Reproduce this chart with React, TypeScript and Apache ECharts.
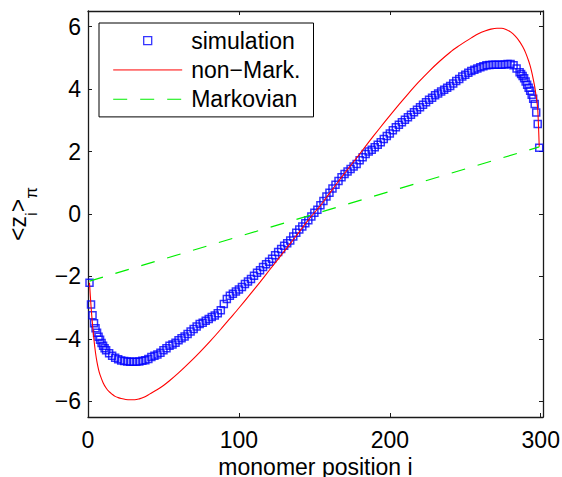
import React, { useEffect, useRef } from "react";
import * as echarts from "echarts";

const FONT = "Liberation Sans";

// x-axis ticks / y-axis ticks
const xTicks = [0, 100, 200, 300];
const yTicks = [-6, -4, -2, 0, 2, 4, 6];

// simulation: monomer index and <z_i>_pi
const simIndex = [
  1, 2, 3, 4, 5, 6, 7, 8, 9, 10, 11, 12, 14, 16, 18, 20, 22, 24, 26, 28, 30, 32, 34, 36, 38, 40,
  42, 44, 46, 48, 50, 52, 54, 56, 58, 60, 62, 64, 66, 68, 70, 72, 74, 76, 78, 80, 82, 84, 86, 88,
  90, 92, 94, 96, 98, 100, 102, 104, 106, 108, 110, 112, 114, 116, 118, 120, 122, 124, 126, 128,
  130, 132, 134, 136, 138, 140, 142, 144, 146, 148, 150, 152, 154, 156, 158, 160, 162, 164, 166,
  168, 170, 172, 174, 176, 178, 180, 182, 184, 186, 188, 190, 192, 194, 196, 198, 200, 202, 204,
  206, 208, 210, 212, 214, 216, 218, 220, 222, 224, 226, 228, 230, 232, 234, 236, 238, 240, 242,
  244, 246, 248, 250, 252, 254, 256, 258, 260, 262, 264, 266, 268, 270, 272, 274, 276, 278, 280,
  282, 284, 286, 287, 288, 289, 290, 291, 292, 293, 294, 295, 296, 297, 298, 299,
];
const simValue = [
  -2.2, -2.9, -3.24, -3.5, -3.66, -3.8, -3.93, -4.03, -4.13, -4.22, -4.3, -4.36, -4.46, -4.54,
  -4.6, -4.65, -4.69, -4.71, -4.72, -4.73, -4.73, -4.73, -4.72, -4.7, -4.68, -4.64, -4.58, -4.54,
  -4.5, -4.44, -4.36, -4.3, -4.22, -4.18, -4.12, -4.04, -3.98, -3.92, -3.84, -3.76, -3.68, -3.6,
  -3.52, -3.48, -3.42, -3.36, -3.3, -3.25, -3.18, -3.08, -2.88, -2.72, -2.62, -2.55, -2.48, -2.42,
  -2.34, -2.24, -2.16, -2.08, -1.98, -1.88, -1.8, -1.7, -1.61, -1.53, -1.43, -1.32, -1.22, -1.12,
  -1.02, -0.94, -0.85, -0.72, -0.6, -0.5, -0.4, -0.3, -0.2, -0.08, 0.04, 0.14, 0.28, 0.42, 0.56,
  0.68, 0.82, 0.94, 1.06, 1.18, 1.28, 1.36, 1.44, 1.52, 1.6, 1.72, 1.82, 1.92, 2.0, 2.06, 2.14,
  2.22, 2.3, 2.4, 2.5, 2.58, 2.68, 2.78, 2.86, 2.94, 3.02, 3.1, 3.18, 3.26, 3.34, 3.42, 3.5, 3.58,
  3.66, 3.72, 3.8, 3.86, 3.92, 3.98, 4.04, 4.1, 4.18, 4.26, 4.32, 4.4, 4.46, 4.52, 4.58, 4.62,
  4.66, 4.7, 4.73, 4.76, 4.77, 4.78, 4.78, 4.78, 4.78, 4.79, 4.8, 4.8, 4.76, 4.66, 4.54, 4.48,
  4.42, 4.35, 4.24, 4.14, 4.04, 3.95, 3.82, 3.69, 3.52, 3.25, 2.88, 2.12,
];

// non-Markovian theory curve
const nonMarkIndex = [
  1, 2, 3, 4, 5, 6, 7, 8, 10, 12, 14, 16, 18, 20, 22, 25, 28, 31, 34, 37, 41, 46, 50, 54, 60, 67,
  74, 81, 88, 94, 100, 107, 114, 120, 127, 134, 140, 146, 150, 154, 160, 166, 173, 180, 186, 193,
  200, 206, 212, 219, 226, 233, 240, 246, 250, 254, 259, 263, 267, 271, 274, 277, 280, 283, 286,
  288, 290, 292, 293, 294, 295, 296, 297, 298, 299,
];
const nonMarkValue = [
  -2.2, -2.95, -3.55, -4.05, -4.45, -4.75, -4.98, -5.15, -5.4, -5.57, -5.69, -5.77, -5.84, -5.88,
  -5.91, -5.94, -5.95, -5.95, -5.92, -5.87, -5.76, -5.62, -5.49, -5.34, -5.09, -4.77, -4.43, -4.07,
  -3.69, -3.35, -3.01, -2.6, -2.18, -1.81, -1.38, -0.95, -0.57, -0.19, 0.04, 0.27, 0.66, 1.05,
  1.49, 1.92, 2.3, 2.73, 3.15, 3.5, 3.84, 4.22, 4.57, 4.89, 5.18, 5.39, 5.52, 5.64, 5.78, 5.86,
  5.92, 5.95, 5.95, 5.91, 5.83, 5.7, 5.52, 5.36, 5.16, 4.9, 4.74, 4.55, 4.33, 4.08, 3.76, 3.36,
  2.15,
];

// Markovian prediction (straight line)
const markovIndex = [1, 299];
const markovValue = [-2.15, 2.15];

const zip = (xs: number[], ys: number[]) => xs.map((x, k) => [x, ys[k]]);
const minus = (v: number) => String(v).replace("-", "\u2212");

export default function App() {
  const ref = useRef<HTMLDivElement>(null);
  useEffect(() => {
    if (!ref.current) return;
    const chart = echarts.init(ref.current, undefined, { renderer: "svg" });
    const axisColor = "#1a1a1a";
    const label = { fontFamily: FONT, fontSize: 23, color: "#000" };
    const baseX = {
      type: "value" as const,
      min: 0,
      max: 301.5,
      splitLine: { show: false },
      axisLine: { show: true, onZero: false, lineStyle: { color: axisColor, width: 1.3 } },
      axisTick: { show: true, inside: true, length: 4, customValues: xTicks, lineStyle: { color: axisColor } },
    };
    const baseY = {
      type: "value" as const,
      min: -6.5,
      max: 6.5,
      splitLine: { show: false },
      axisLine: { show: true, onZero: false, lineStyle: { color: axisColor, width: 1.3 } },
      axisTick: { show: true, inside: true, length: 4, customValues: yTicks, lineStyle: { color: axisColor } },
    };
    chart.setOption({
      animation: false,
      backgroundColor: "#fff",
      grid: { left: 88, right: 19, top: 11, bottom: 60, containLabel: false, outerBoundsMode: "none" },
      xAxis: [
        {
          ...baseX,
          position: "bottom",
          name: "monomer position i",
          nameLocation: "middle",
          nameGap: 38,
          nameTextStyle: label,
          axisLabel: { ...label, customValues: xTicks, margin: 11, formatter: (v: number) => minus(v) },
        },
        { ...baseX, position: "top", axisLabel: { show: false } },
      ],
      yAxis: [
        {
          ...baseY,
          position: "left",
          name: "{a|<z}{s|i}{a|>}{s|\u03c0}",
          nameLocation: "middle",
          nameRotate: 90,
          nameGap: 48,
          nameTextStyle: {
            rich: {
              a: { fontFamily: FONT, fontSize: 23, color: "#000", verticalAlign: "bottom", padding: [0, 0, 11, 0] },
              s: { fontFamily: FONT, fontSize: 17, color: "#000", verticalAlign: "bottom" },
            },
          },
          axisLabel: { ...label, customValues: yTicks, margin: 7, formatter: (v: number) => minus(v) },
        },
        { ...baseY, position: "right", axisLabel: { show: false } },
      ],
      legend: {
        orient: "vertical",
        left: 99,
        top: 23,
        padding: [3, 13, 3, 13.7],
        itemWidth: 69,
        itemHeight: 8,
        itemGap: 0,
        borderColor: "#000",
        borderWidth: 1,
        borderRadius: 0,
        backgroundColor: "#fff",
        symbolKeepAspect: true,
        lineStyle: { width: 1 },
        textStyle: { fontFamily: FONT, fontSize: 23, color: "#000", lineHeight: 29.3, padding: [0, 0, 0, 4] },
        data: [
          {
            name: "simulation",
            icon: "path://M0,0L10,0L10,10L0,10Z",
            itemStyle: { color: "rgba(0,0,0,0)", borderColor: "#0000ff", borderWidth: 1.3 },
          },
          { name: "non\u2212Mark.", itemStyle: { opacity: 0 } },
          { name: "Markovian", itemStyle: { opacity: 0 } },
        ],
      },
      series: [
        {
          name: "simulation",
          type: "scatter",
          symbol: "rect",
          symbolSize: 7,
          itemStyle: { color: "rgba(0,0,0,0)", borderColor: "#0000ff", borderWidth: 1.5 },
          data: zip(simIndex, simValue),
        },
        {
          name: "non\u2212Mark.",
          type: "line",
          symbol: "none",
          showSymbol: false,
          smooth: 0.3,
          lineStyle: { color: "#ff0000", width: 1.1 },
          itemStyle: { color: "#ff0000" },
          data: zip(nonMarkIndex, nonMarkValue),
        },
        {
          name: "Markovian",
          type: "line",
          symbol: "none",
          showSymbol: false,
          lineStyle: { color: "#00ee00", width: 1.2, type: [14, 13] },
          itemStyle: { color: "#00ee00" },
          data: zip(markovIndex, markovValue),
        },
      ],
    });
    return () => chart.dispose();
  }, []);
  return <div ref={ref} style={{ position: "fixed", left: 0, top: 0, width: 562, height: 477 }} />;
}
